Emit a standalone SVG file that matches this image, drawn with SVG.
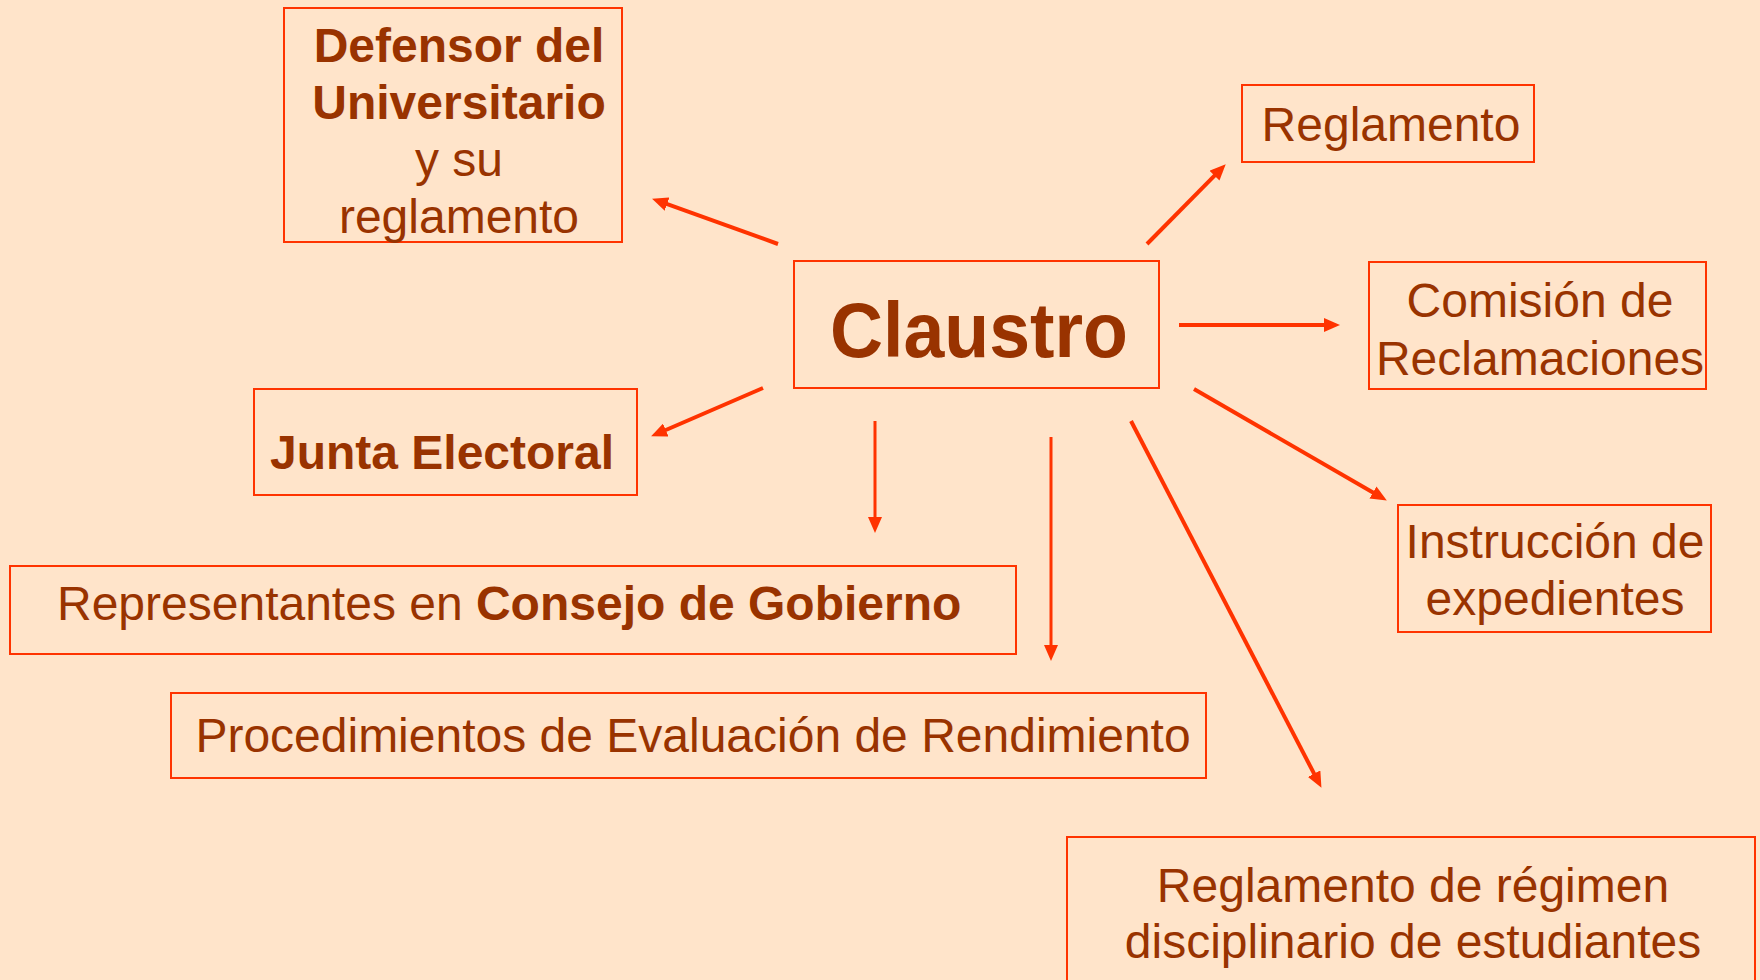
<svg xmlns="http://www.w3.org/2000/svg" width="1760" height="980" viewBox="0 0 1760 980">
<style>
.box{fill:none;stroke:#FF3300;stroke-width:2}
.t{font-family:"Liberation Sans",Arial,sans-serif;font-size:48px;fill:#993300;text-anchor:middle}
.b{font-weight:bold}
.c line{stroke:#FF3300;stroke-width:4;marker-end:url(#ah)}
.c line.thin{stroke-width:3}
</style>
<defs>
<marker id="ah" markerUnits="userSpaceOnUse" markerWidth="16" markerHeight="14" refX="5" refY="7" orient="auto">
<path d="M0,0 L16,7 L0,14 z" fill="#FF3300"/>
</marker>
</defs>
<rect width="1760" height="980" fill="#FFE4CA"/>
<g id="connectors" class="c">
<line x1="778" y1="244" x2="662.4" y2="202.4"/>
<line x1="1147" y1="244" x2="1218" y2="172.1"/>
<line x1="1179" y1="325" x2="1329" y2="325"/>
<line x1="763" y1="388" x2="661.2" y2="432"/>
<line class="thin" x1="875" y1="421" x2="875" y2="522"/>
<line class="thin" x1="1051" y1="437" x2="1051" y2="650"/>
<line x1="1131" y1="421" x2="1316.4" y2="778.1"/>
<line x1="1194" y1="389" x2="1377.3" y2="495"/>
</g>
<g id="defensor">
<rect class="box" x="284" y="8" width="338" height="234"/>
<text class="t b" x="459" y="62">Defensor del</text>
<text class="t b" x="459" y="119">Universitario</text>
<text class="t" x="459" y="176">y su</text>
<text class="t" x="459" y="233">reglamento</text>
</g>
<g id="claustro">
<rect class="box" x="794" y="261" width="365" height="127"/>
<text class="t b" x="979" y="357" style="font-size:78px" textLength="298" lengthAdjust="spacingAndGlyphs">Claustro</text>
</g>
<g id="reglamento">
<rect class="box" x="1242" y="85" width="292" height="77"/>
<text class="t" x="1391" y="141">Reglamento</text>
</g>
<g id="comision">
<rect class="box" x="1369" y="262" width="337" height="127"/>
<text class="t" x="1540" y="317">Comisión de</text>
<text class="t" x="1540" y="375">Reclamaciones</text>
</g>
<g id="junta">
<rect class="box" x="254" y="389" width="383" height="106"/>
<text class="t b" x="442" y="469">Junta Electoral</text>
</g>
<g id="representantes">
<rect class="box" x="10" y="566" width="1006" height="88"/>
<text class="t" x="57" y="620" style="text-anchor:start">Representantes en <tspan class="b">Consejo de Gobierno</tspan></text>
</g>
<g id="procedimientos">
<rect class="box" x="171" y="693" width="1035" height="85"/>
<text class="t" x="693" y="752">Procedimientos de Evaluación de Rendimiento</text>
</g>
<g id="instruccion">
<rect class="box" x="1398" y="505" width="313" height="127"/>
<text class="t" x="1555" y="558">Instrucción de</text>
<text class="t" x="1555" y="615">expedientes</text>
</g>
<g id="regimen">
<rect class="box" x="1067" y="837" width="688" height="160"/>
<text class="t" x="1413" y="902">Reglamento de régimen</text>
<text class="t" x="1413" y="958">disciplinario de estudiantes</text>
</g>
</svg>
